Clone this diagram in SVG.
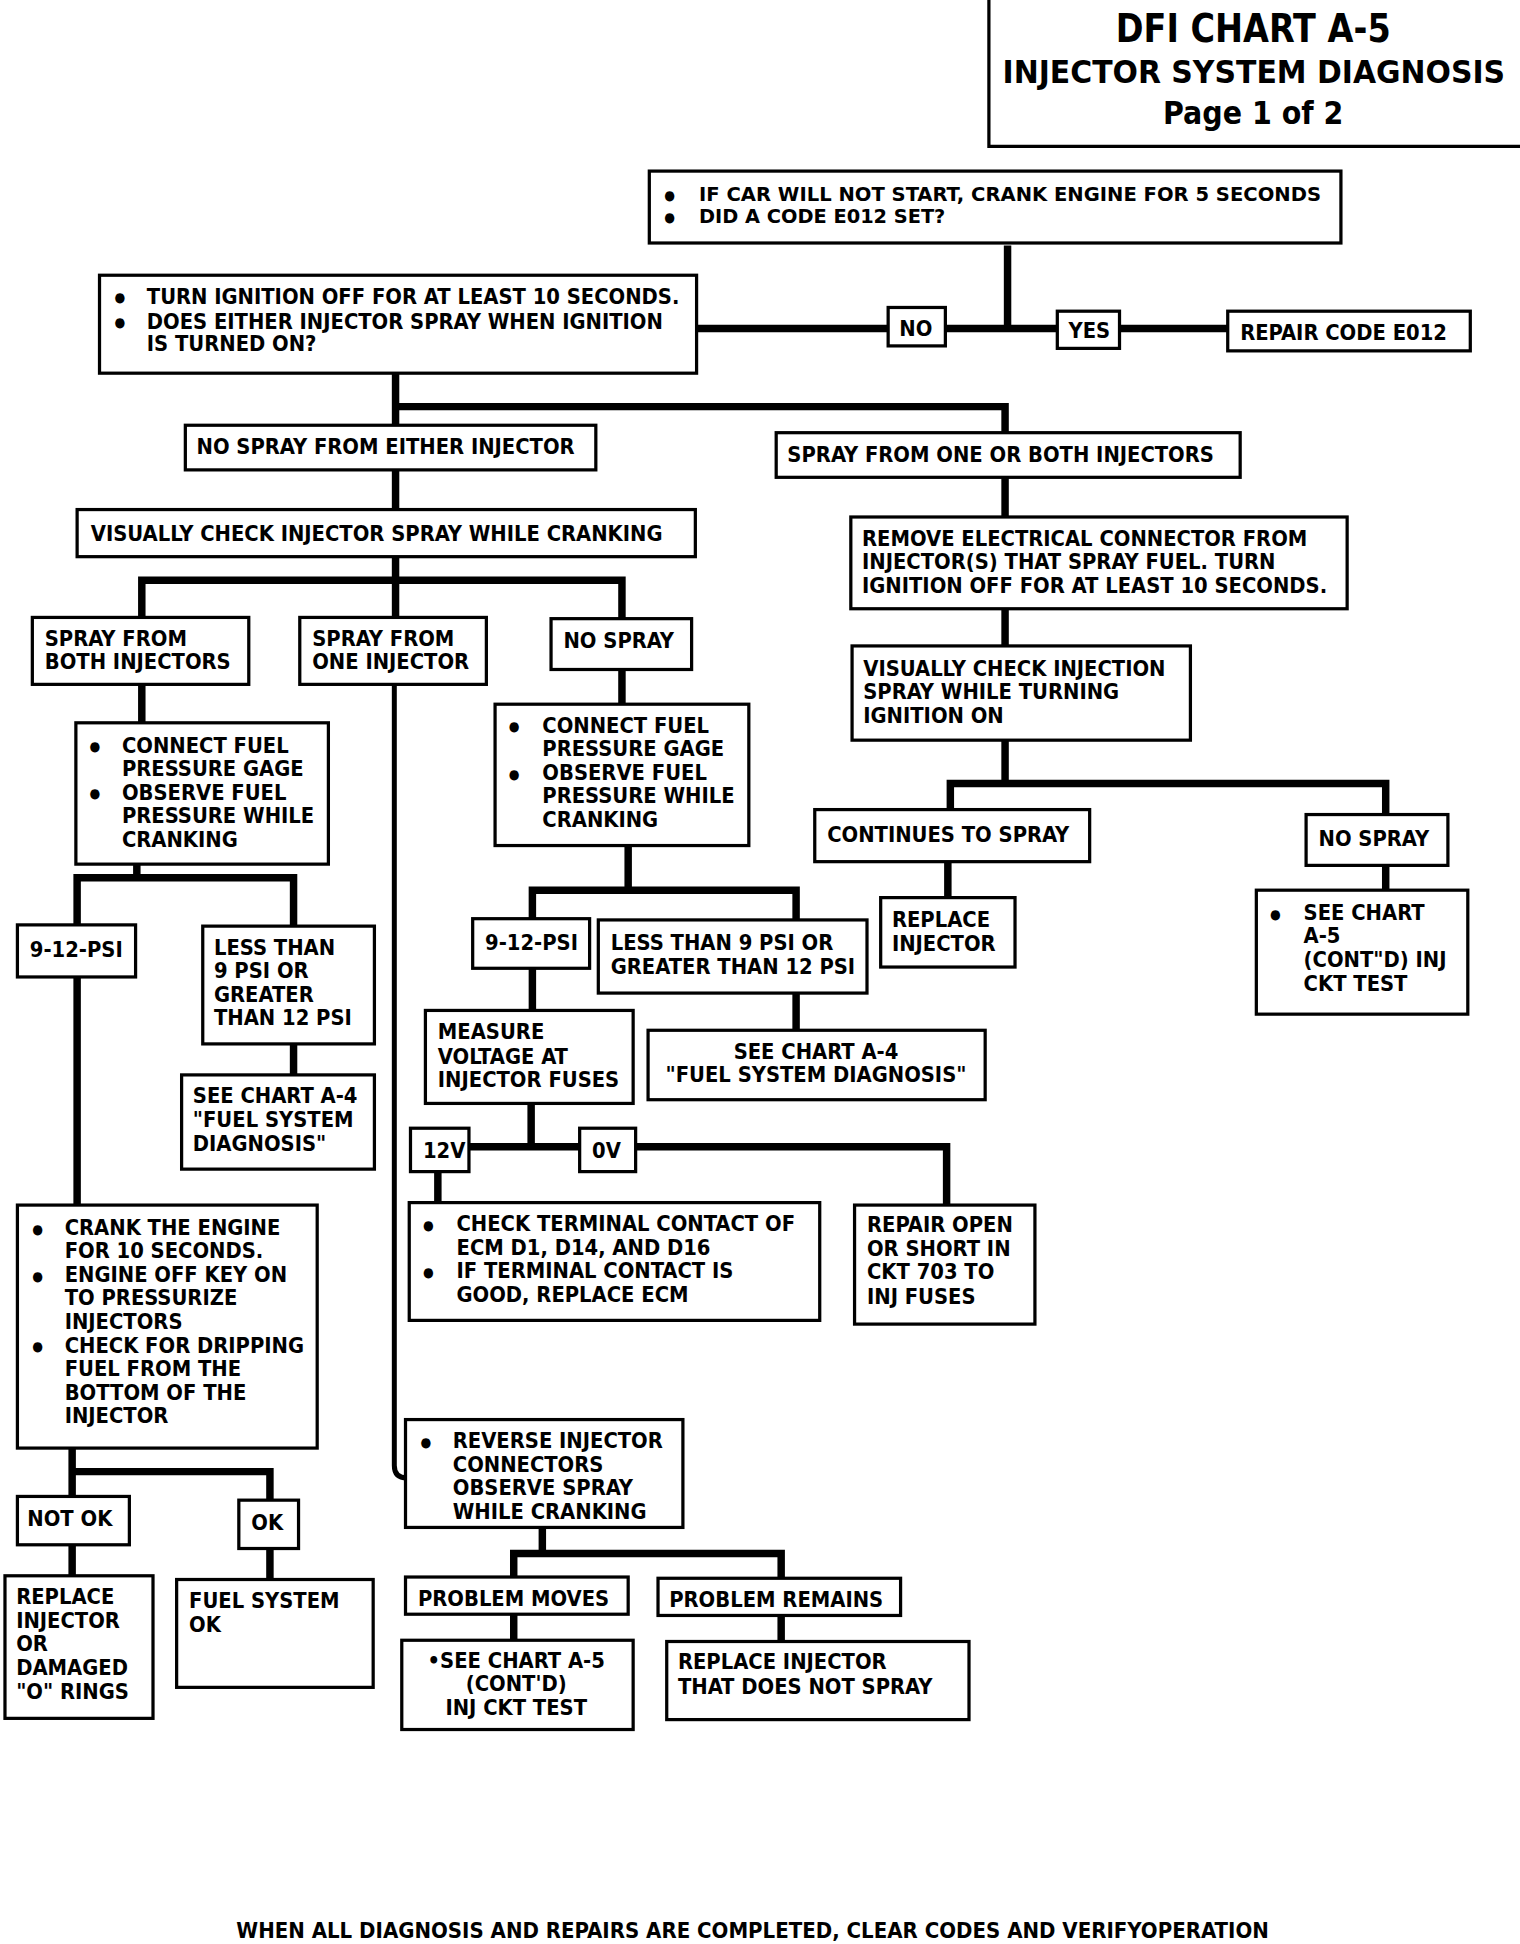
<svg xmlns="http://www.w3.org/2000/svg" width="1520" height="1944" viewBox="0 0 1520 1944">
<style>
.bx{fill:#fff;stroke:#000;stroke-width:2.6}
.c{fill:none;stroke:#000;stroke-width:6}
.c4{fill:none;stroke:#000;stroke-width:4}
text{font-family:"Liberation Sans Narrow","DejaVu Sans Condensed","Liberation Sans",sans-serif;font-weight:bold;font-size:17.5px;fill:#000}
.b{font-size:11px}
.s{font-size:16px}
.m{text-anchor:middle}
</style>
<rect width="1520" height="1944" fill="#fff"/>
<g transform="scale(1.2439 1.2398)">
<g id="title">
<path d="M795 0 V118 H1222" fill="none" stroke="#000" stroke-width="2.6"/>
<text x="897" y="34" style="font-size:32px" textLength="221" lengthAdjust="spacingAndGlyphs">DFI CHART A-5</text>
<text x="806" y="67" style="font-size:26px" textLength="404" lengthAdjust="spacingAndGlyphs">INJECTOR SYSTEM DIAGNOSIS</text>
<text x="935" y="100" style="font-size:26px" textLength="145" lengthAdjust="spacingAndGlyphs">Page 1 of 2</text>
</g>
<g id="connectors">
<path class="c" d="M810 198 V265 M560 265 H987"/>
<path class="c" d="M318 301 V343 M318 328 H808 V349"/>
<path class="c" d="M318 379 V411"/>
<path class="c" d="M114 498 V468 H500 V499 M318 449 V498"/>
<path class="c" d="M808 385 V417 M808 491 V521 M808 597 V632 M764 654 V632 H1114 V657"/>
<path class="c" d="M762 695 V724 M1114 698 V718"/>
<path class="c" d="M114 552 V583 M110 697 V708 M62 746 V708 H236 V747"/>
<path class="c" d="M236 842 V867 M62 788 V972"/>
<path class="c" d="M58 1168 V1187 M58 1207 V1187 H217 V1210 M58 1246 V1271 M217 1249 V1274"/>
<path class="c4" d="M317 552 V1182 Q317 1192 327 1192"/>
<path class="c" d="M436 1232 V1253 M413 1272 V1253 H628 V1273 M413 1302 V1323 M628 1303 V1324"/>
<path class="c" d="M500 540 V568 M505 682 V718 M428 741 V718 H640 V745 M640 801 V831 M428 781 V815 M427 890 V925 M377 925 H761 V972 M352 945 V970"/>
</g>
<g id="n_start">
<rect class="bx" x="522" y="138" width="556" height="58"/>
<text x="534" y="161" class="b">●</text><text x="562" y="162" class="s" textLength="500" lengthAdjust="spacingAndGlyphs">IF CAR WILL NOT START, CRANK ENGINE FOR 5 SECONDS</text>
<text x="534" y="179" class="b">●</text><text x="562" y="180" class="s" textLength="198" lengthAdjust="spacingAndGlyphs">DID A CODE E012 SET?</text>
</g>
<g id="n_turn_off">
<rect class="bx" x="80" y="222" width="480" height="79"/>
<text x="92" y="244" class="b">●</text><text x="118" y="245">TURN IGNITION OFF FOR AT LEAST 10 SECONDS.</text>
<text x="92" y="264" class="b">●</text><text x="118" y="265">DOES EITHER INJECTOR SPRAY WHEN IGNITION</text>
<text x="118" y="283">IS TURNED ON?</text>
</g>
<g id="n_no"><rect class="bx" x="714" y="248" width="46" height="31"/><text x="723" y="271">NO</text></g>
<g id="n_yes"><rect class="bx" x="850" y="251" width="50" height="30"/><text x="859" y="273">YES</text></g>
<g id="n_repair_e012"><rect class="bx" x="987" y="251" width="195" height="32"/><text x="997" y="274">REPAIR CODE E012</text></g>
<g id="n_no_spray_either"><rect class="bx" x="149" y="343" width="330" height="36"/><text x="158" y="366">NO SPRAY FROM EITHER INJECTOR</text></g>
<g id="n_spray_one_both"><rect class="bx" x="624" y="349" width="373" height="36"/><text x="633" y="373">SPRAY FROM ONE OR BOTH INJECTORS</text></g>
<g id="n_visual_crank"><rect class="bx" x="62" y="411" width="497" height="38"/><text x="73" y="436">VISUALLY CHECK INJECTOR SPRAY WHILE CRANKING</text></g>
<g id="n_spray_both"><rect class="bx" x="26" y="498" width="174" height="54"/><text x="36" y="521">SPRAY FROM</text><text x="36" y="540">BOTH INJECTORS</text></g>
<g id="n_spray_one"><rect class="bx" x="241" y="498" width="150" height="54"/><text x="251" y="521">SPRAY FROM</text><text x="251" y="540">ONE INJECTOR</text></g>
<g id="n_no_spray_mid"><rect class="bx" x="443" y="499" width="113" height="41"/><text x="453" y="523">NO SPRAY</text></g>
<g id="n_remove_conn">
<rect class="bx" x="684" y="417" width="399" height="74"/>
<text x="693" y="440">REMOVE ELECTRICAL CONNECTOR FROM</text>
<text x="693" y="459">INJECTOR(S) THAT SPRAY FUEL.  TURN</text>
<text x="693" y="478">IGNITION OFF FOR AT LEAST 10 SECONDS.</text>
</g>
<g id="n_visual_ign">
<rect class="bx" x="685" y="521" width="272" height="76"/>
<text x="694" y="545">VISUALLY CHECK INJECTION</text>
<text x="694" y="564">SPRAY WHILE TURNING</text>
<text x="694" y="583">IGNITION ON</text>
</g>
<g id="n_continues"><rect class="bx" x="655" y="653" width="221" height="42"/><text x="665" y="679">CONTINUES TO SPRAY</text></g>
<g id="n_no_spray_right"><rect class="bx" x="1050" y="657" width="114" height="41"/><text x="1060" y="682">NO SPRAY</text></g>
<g id="n_replace_inj_r"><rect class="bx" x="708" y="724" width="108" height="56"/><text x="717" y="748">REPLACE</text><text x="717" y="767">INJECTOR</text></g>
<g id="n_see_a5_r">
<rect class="bx" x="1010" y="718" width="170" height="100"/>
<text x="1021" y="741" class="b">●</text><text x="1048" y="742">SEE CHART</text>
<text x="1048" y="761">A-5</text>
<text x="1048" y="780">(CONT"D) INJ</text>
<text x="1048" y="799">CKT TEST</text>
</g>
<g id="n_gage_left">
<rect class="bx" x="61" y="583" width="203" height="114"/>
<text x="72" y="606" class="b">●</text><text x="98" y="607">CONNECT FUEL</text>
<text x="98" y="626">PRESSURE GAGE</text>
<text x="72" y="644" class="b">●</text><text x="98" y="645">OBSERVE FUEL</text>
<text x="98" y="664">PRESSURE WHILE</text>
<text x="98" y="683">CRANKING</text>
</g>
<g id="n_psi_ok_left"><rect class="bx" x="14" y="746" width="95" height="42"/><text x="24" y="772">9-12-PSI</text></g>
<g id="n_psi_bad_left">
<rect class="bx" x="163" y="747" width="138" height="95"/>
<text x="172" y="770">LESS THAN</text><text x="172" y="789">9 PSI OR</text><text x="172" y="808">GREATER</text><text x="172" y="827">THAN 12 PSI</text>
</g>
<g id="n_see_a4_left">
<rect class="bx" x="146" y="867" width="155" height="76"/>
<text x="155" y="890">SEE CHART A-4</text><text x="155" y="909">"FUEL SYSTEM</text><text x="155" y="928">DIAGNOSIS"</text>
</g>
<g id="n_crank10">
<rect class="bx" x="14" y="972" width="241" height="196"/>
<text x="26" y="995" class="b">●</text><text x="52" y="996">CRANK THE ENGINE</text>
<text x="52" y="1015">FOR 10 SECONDS.</text>
<text x="26" y="1033" class="b">●</text><text x="52" y="1034">ENGINE OFF KEY ON</text>
<text x="52" y="1053">TO PRESSURIZE</text>
<text x="52" y="1072">INJECTORS</text>
<text x="26" y="1090" class="b">●</text><text x="52" y="1091">CHECK FOR DRIPPING</text>
<text x="52" y="1110">FUEL FROM THE</text>
<text x="52" y="1129">BOTTOM OF THE</text>
<text x="52" y="1148">INJECTOR</text>
</g>
<g id="n_not_ok"><rect class="bx" x="14" y="1207" width="90" height="39"/><text x="22" y="1231">NOT OK</text></g>
<g id="n_ok"><rect class="bx" x="192" y="1210" width="48" height="39"/><text x="202" y="1234">OK</text></g>
<g id="n_replace_orings">
<rect class="bx" x="4" y="1271" width="119" height="115"/>
<text x="13" y="1294">REPLACE</text><text x="13" y="1313">INJECTOR</text><text x="13" y="1332">OR</text><text x="13" y="1351">DAMAGED</text><text x="13" y="1370">"O" RINGS</text>
</g>
<g id="n_fuel_ok"><rect class="bx" x="142" y="1274" width="158" height="87"/><text x="152" y="1297">FUEL SYSTEM</text><text x="152" y="1316">OK</text></g>
<g id="n_gage_mid">
<rect class="bx" x="398" y="568" width="204" height="114"/>
<text x="409" y="590" class="b">●</text><text x="436" y="591">CONNECT FUEL</text>
<text x="436" y="610">PRESSURE GAGE</text>
<text x="409" y="628" class="b">●</text><text x="436" y="629">OBSERVE FUEL</text>
<text x="436" y="648">PRESSURE WHILE</text>
<text x="436" y="667">CRANKING</text>
</g>
<g id="n_psi_ok_mid"><rect class="bx" x="380" y="741" width="94" height="40"/><text x="390" y="766">9-12-PSI</text></g>
<g id="n_psi_bad_mid"><rect class="bx" x="481" y="742" width="216" height="59"/><text x="491" y="766">LESS THAN 9 PSI OR</text><text x="491" y="786">GREATER THAN 12 PSI</text></g>
<g id="n_see_a4_mid"><rect class="bx" x="521" y="831" width="271" height="56"/><text x="656" y="854" class="m">SEE CHART A-4</text><text x="656" y="873" class="m">"FUEL SYSTEM DIAGNOSIS"</text></g>
<g id="n_measure"><rect class="bx" x="342" y="815" width="167" height="75"/><text x="352" y="838">MEASURE</text><text x="352" y="858">VOLTAGE AT</text><text x="352" y="877">INJECTOR FUSES</text></g>
<g id="n_12v"><rect class="bx" x="330" y="910" width="47" height="35"/><text x="340" y="934">12V</text></g>
<g id="n_0v"><rect class="bx" x="466" y="910" width="45" height="35"/><text x="476" y="934">0V</text></g>
<g id="n_check_ecm">
<rect class="bx" x="329" y="970" width="330" height="95"/>
<text x="340" y="992" class="b">●</text><text x="367" y="993">CHECK TERMINAL CONTACT OF</text>
<text x="367" y="1012">ECM D1, D14, AND D16</text>
<text x="340" y="1030" class="b">●</text><text x="367" y="1031">IF TERMINAL CONTACT IS</text>
<text x="367" y="1050">GOOD, REPLACE ECM</text>
</g>
<g id="n_repair_open">
<rect class="bx" x="687" y="972" width="145" height="96"/>
<text x="697" y="994">REPAIR OPEN</text><text x="697" y="1013">OR SHORT IN</text><text x="697" y="1032">CKT  703 TO</text><text x="697" y="1052">INJ FUSES</text>
</g>
<g id="n_reverse">
<rect class="bx" x="326" y="1145" width="223" height="87"/>
<text x="338" y="1167" class="b">●</text><text x="364" y="1168">REVERSE INJECTOR</text>
<text x="364" y="1187">CONNECTORS</text>
<text x="364" y="1206">OBSERVE SPRAY</text>
<text x="364" y="1225">WHILE CRANKING</text>
</g>
<g id="n_moves"><rect class="bx" x="326" y="1272" width="179" height="30"/><text x="336" y="1295">PROBLEM MOVES</text></g>
<g id="n_remains"><rect class="bx" x="529" y="1273" width="195" height="30"/><text x="538" y="1296">PROBLEM REMAINS</text></g>
<g id="n_see_a5_mid"><rect class="bx" x="323" y="1323" width="186" height="72"/><text x="415" y="1345" class="m">•SEE CHART A-5</text><text x="415" y="1364" class="m">(CONT'D)</text><text x="415" y="1383" class="m">INJ CKT TEST</text></g>
<g id="n_replace_nospray"><rect class="bx" x="536" y="1324" width="243" height="63"/><text x="545" y="1346">REPLACE  INJECTOR</text><text x="545" y="1366">THAT DOES NOT SPRAY</text></g>
<g id="footer"><text x="190" y="1563" textLength="830" lengthAdjust="spacingAndGlyphs">WHEN ALL DIAGNOSIS AND REPAIRS ARE COMPLETED, CLEAR CODES AND VERIFYOPERATION</text></g>
</g>
</svg>
